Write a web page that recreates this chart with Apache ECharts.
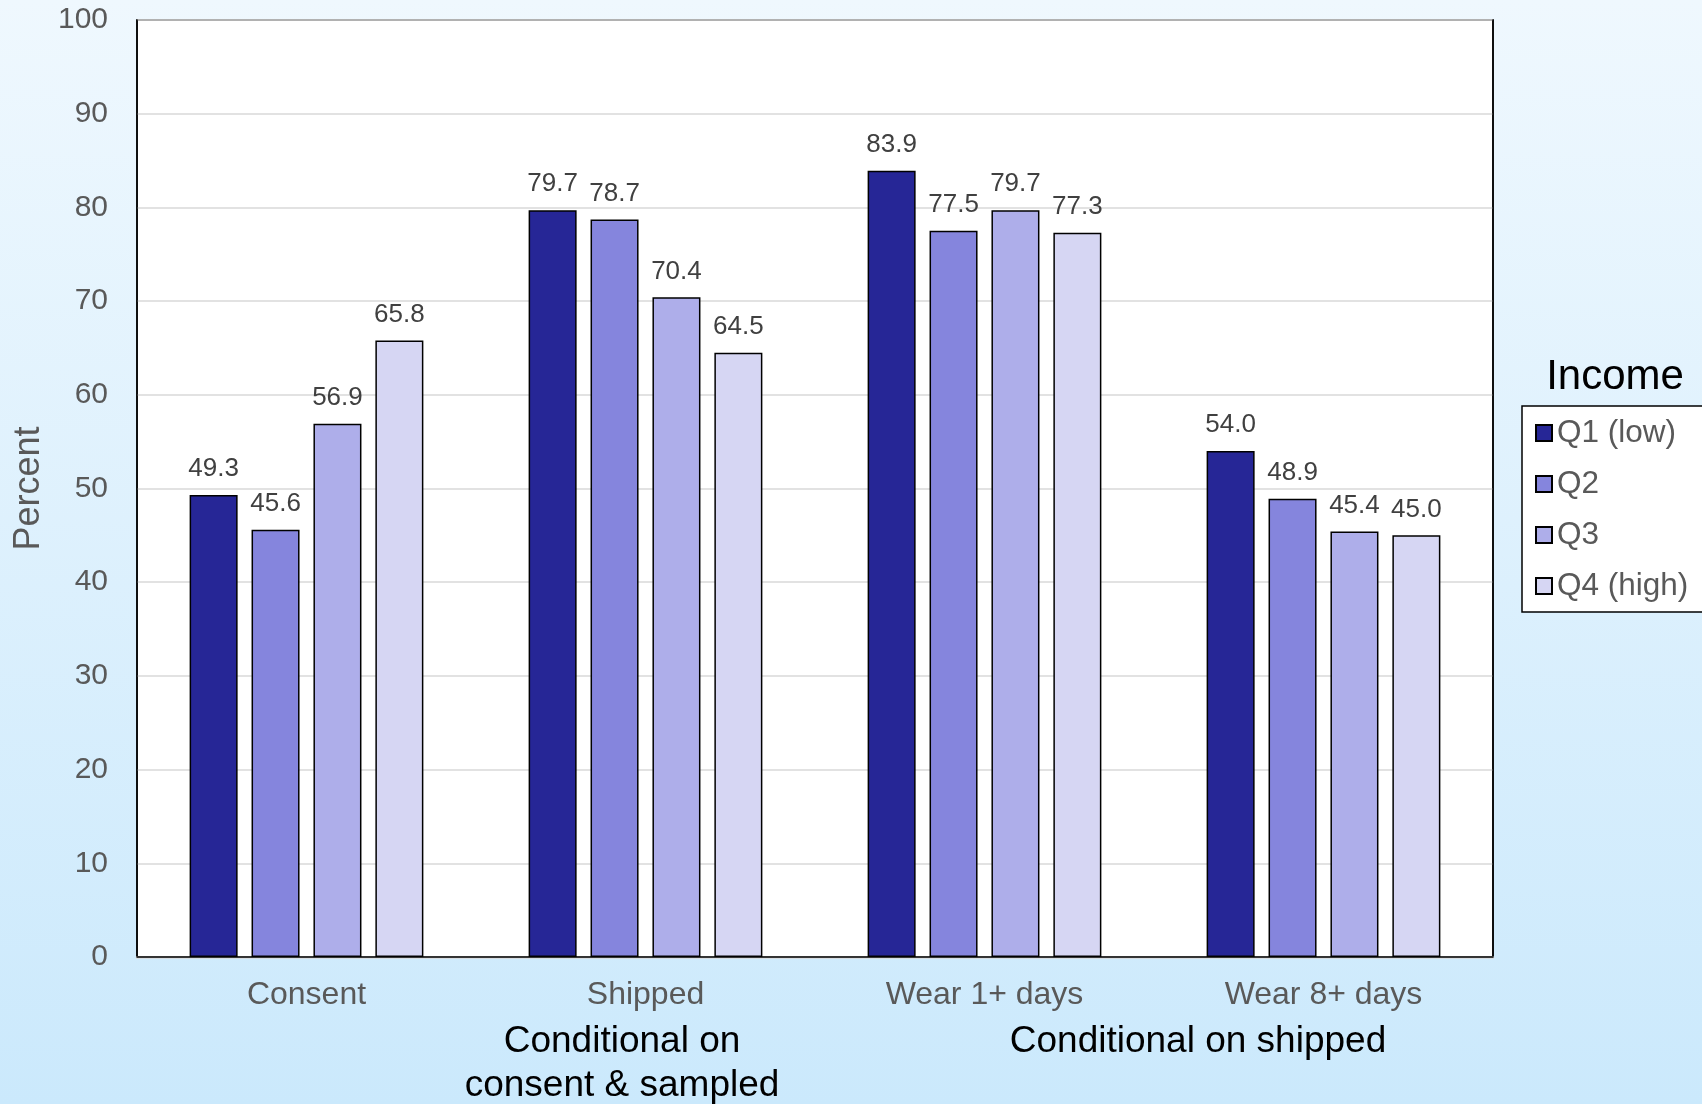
<!DOCTYPE html>
<html>
<head>
<meta charset="utf-8">
<script src="https://cdn.jsdelivr.net/npm/echarts@6/dist/echarts.min.js"></script>
<style>
  html, body { margin: 0; padding: 0; }
  body { width: 1702px; height: 1104px; background: linear-gradient(to bottom, #eff8fe 0%, #cbe9fc 100%); }
  #chart { width: 1702px; height: 1104px; }
</style>
</head>
<body>
<div id="chart"></div>
<script>
const categories = ['Consent', 'Shipped', 'Wear 1+ days', 'Wear 8+ days'];
const seriesNames = ['Q1 (low)', 'Q2', 'Q3', 'Q4 (high)'];
const q1Low = [49.3, 79.7, 83.9, 54.0];
const q2 = [45.6, 78.7, 77.5, 48.9];
const q3 = [56.9, 70.4, 79.7, 45.4];
const q4High = [65.8, 64.5, 77.3, 45.0];
const seriesValues = [q1Low, q2, q3, q4High];
const barColors = ['#262696', '#8585dd', '#aeaeea', '#d6d6f3'];

const FONT = '"Liberation Sans", Arial, sans-serif';
const chart = echarts.init(document.getElementById('chart'), null, { renderer: 'canvas' });

const series = seriesNames.map((name, i) => ({
  name: name,
  type: 'bar',
  data: seriesValues[i],
  barWidth: 48,
  barGap: '29%',
  itemStyle: { color: barColors[i], borderColor: '#000000', borderWidth: 1.5 },
  label: {
    show: true,
    position: 'top',
    distance: 13,
    formatter: p => p.value.toFixed(1),
    color: '#404040',
    fontSize: 26,
    fontFamily: FONT
  }
}));

chart.setOption({
  backgroundColor: 'transparent',
  animation: false,
  grid: {
    left: 137, top: 20, right: 209, bottom: 147,
    show: true, backgroundColor: '#ffffff', borderColor: '#000000', borderWidth: 1.5
  },
  legend: {
    orient: 'vertical',
    left: 1522, top: 406,
    data: seriesNames,
    itemWidth: 16, itemHeight: 16,
    itemGap: 19,
    itemTextGap: 10,
    padding: [11, 30, 10, 13],
    backgroundColor: '#ffffff',
    borderColor: '#000000',
    borderWidth: 1.5,
    borderRadius: 0,
    icon: 'rect',
    textStyle: { fontSize: 31.5, color: '#595959', fontFamily: FONT, lineHeight: 30 }
  },
  xAxis: [{
    type: 'category',
    data: categories,
    axisLine: { show: true, lineStyle: { color: '#d9d9d9', width: 2.5 } },
    axisTick: { show: false },
    axisLabel: { fontSize: 32, color: '#595959', fontFamily: FONT, margin: 22 }
  }, {
    // top frame edge
    type: 'category',
    data: categories,
    position: 'top',
    axisLine: { show: true, lineStyle: { color: '#000000', width: 1.5 } },
    axisTick: { show: false },
    axisLabel: { show: false },
    splitLine: { show: false }
  }],
  yAxis: [{
    type: 'value',
    min: 0, max: 100, interval: 10,
    name: 'Percent',
    nameLocation: 'middle',
    nameGap: 87,
    nameTextStyle: { fontSize: 36, color: '#595959', fontFamily: FONT },
    axisLine: { show: true, lineStyle: { color: '#000000', width: 1.5 } },
    axisTick: { show: false },
    splitLine: { show: true, lineStyle: { color: '#d9d9d9', width: 1.5 } },
    axisLabel: { fontSize: 30, color: '#595959', fontFamily: FONT, margin: 29 }
  }, {
    // right frame edge
    type: 'value',
    min: 0, max: 100, interval: 10,
    position: 'right',
    axisLine: { show: true, lineStyle: { color: '#000000', width: 1.5 } },
    axisTick: { show: false },
    axisLabel: { show: false },
    splitLine: { show: false }
  }],
  graphic: [
    { type: 'text', x: 1615, y: 377, style: { text: 'Income', fontSize: 42, fill: '#000000', fontFamily: FONT, align: 'center', verticalAlign: 'middle' } },
    { type: 'text', x: 622, y: 1042, style: { text: 'Conditional on', fontSize: 37, fill: '#000000', fontFamily: FONT, align: 'center', verticalAlign: 'middle' } },
    { type: 'text', x: 622, y: 1086, style: { text: 'consent & sampled', fontSize: 37, fill: '#000000', fontFamily: FONT, align: 'center', verticalAlign: 'middle' } },
    { type: 'text', x: 1198, y: 1042, style: { text: 'Conditional on shipped', fontSize: 37, fill: '#000000', fontFamily: FONT, align: 'center', verticalAlign: 'middle' } }
  ],
  series: series
});
</script>
</body>
</html>
